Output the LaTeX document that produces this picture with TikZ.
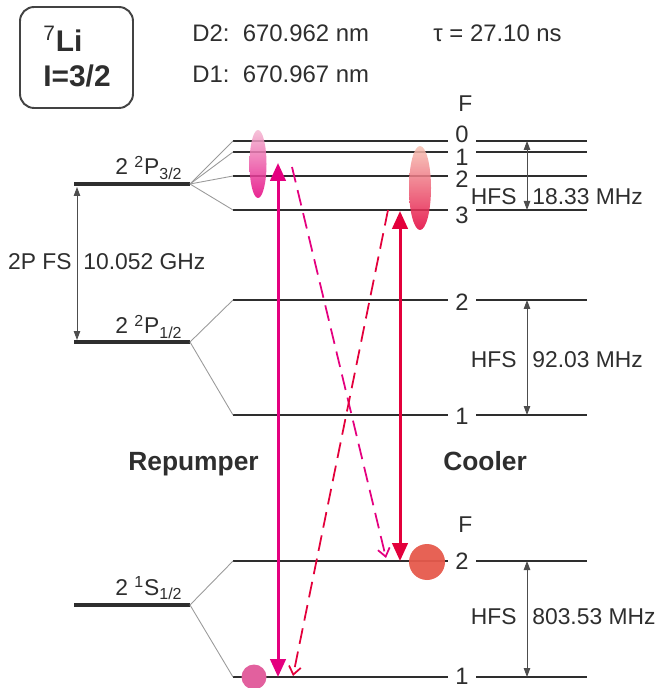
\documentclass[tikz,border=0pt]{standalone}
\usepackage{fontspec}
\setmainfont{Liberation Sans}
\usetikzlibrary{arrows.meta,shapes.geometric}
\definecolor{LiInk}{HTML}{2E2E2E}
\definecolor{LiGrey}{HTML}{9A9A9A}
\definecolor{RepMagenta}{HTML}{E4007F}
\definecolor{CoolRed}{HTML}{E3003B}
\definecolor{RepPink}{HTML}{F4B8D2}
\definecolor{CoolSalmon}{HTML}{F6C2B2}
\definecolor{CoolSpot}{HTML}{E65A4C}
\definecolor{RepSpot}{HTML}{E2609E}

\begin{document}
\begin{tikzpicture}[x=0.02cm,y=-0.02cm,
  every node/.style={inner sep=0pt,text=LiInk,font=\fontsize{13}{15}\selectfont},
  finelev/.style={draw=LiInk,line width=2.8pt},
  hfslev/.style={draw=LiInk,line width=0.9pt},
  split/.style={draw=LiGrey,line width=0.5pt},
  span/.style={draw=LiInk!85,line width=0.5pt,{Triangle[length=1.8mm,width=1.3mm]}-{Triangle[length=1.8mm,width=1.3mm]}},
  pump/.style={line width=1.7pt,{Triangle[length=3.6mm,width=3.1mm]}-{Triangle[length=3.6mm,width=3.1mm]}},
  decay/.style={line width=1pt,dash pattern=on 9pt off 4.5pt,-{Straight Barb[length=1.6mm,width=2.4mm]}},
  heading/.style={font=\bfseries\fontsize{15}{18}\selectfont},
  topline/.style={font=\fontsize{13.6}{16}\selectfont,anchor=base west},
  boxtext/.style={font=\bfseries\fontsize{17}{20}\selectfont,anchor=base west},
  cloud/.style={ellipse,opacity=0.85}]
\useasboundingbox (0,0) rectangle (662,688);

\node[draw=LiInk!90,line width=1.1pt,rounded corners=8pt,minimum width=2.26cm,minimum height=2.02cm] (isobox) at (76.5,57.5) {};
\node[boxtext] (isoname) at (43,52) {\textsuperscript{\mdseries 7}Li};
\node[boxtext] (isospin) at (43,87) {I=3/2};
\node[topline] (dtwo) at (192,42) {D2:\ \ 670.962 nm};
\node[topline] (done) at (192,83) {D1:\ \ 670.967 nm};
\node[topline] (tau) at (433,42) {τ = 27.10 ns};

\foreach \lev/\yy/\ty/\tx in {ptwo/184/175/{2 \textsuperscript{2}P\textsubscript{3/2}},
    pone/342/334/{2 \textsuperscript{2}P\textsubscript{1/2}},
    sone/605/595/{2 \textsuperscript{1}S\textsubscript{1/2}}}{
  \coordinate (\lev-l) at (74,\yy);
  \coordinate (\lev-r) at (190,\yy);
  \draw[finelev] (\lev-l) -- (\lev-r);
  \node[anchor=base west] (\lev-t) at (115,\ty) {\tx};
}

\foreach \lev/\yy/\fy/\fl/\lw in {pa/141/134/0/0.9pt, pb/152/157/1/0.9pt, pc/176/179/2/1.5pt, pd/210/215/3/0.9pt,
    qa/300/302/2/0.9pt, qb/415/416/1/0.9pt, sa/561/561/2/0.8pt, sb/677/676/1/0.8pt}{
  \coordinate (\lev-l) at (233,\yy);
  \coordinate (\lev-r) at (587,\yy);
  \coordinate (\lev-m) at (527,\yy);
  \node[font=\fontsize{13.5}{15}\selectfont] (\lev-f) at (462,\fy) {\fl};
  \draw[hfslev,line width=\lw] (\lev-l) -- (448,\yy) (476,\yy) -- (\lev-r);
}
\node[anchor=base west] (fup) at (458,112) {F};
\node[anchor=base west] (fdown) at (458,532) {F};

\foreach \lev in {pa,pb,pc,pd} \draw[split] (ptwo-r) -- (\lev-l);
\foreach \lev in {qa,qb} \draw[split] (pone-r) -- (\lev-l);
\foreach \lev in {sa,sb} \draw[split] (sone-r) -- (\lev-l);

\coordinate (fs-hi) at (77,187);
\coordinate (fs-lo) at (77,340);
\draw[span] (fs-hi) -- (fs-lo);
\node[anchor=base east] (fs-name) at (72,270) {2P FS};
\node[anchor=base west] (fs-val) at (83,270) {10.052 GHz};

\foreach \hi/\lo/\by/\val in {pa/pd/205/18.33, qa/qb/367/92.03, sa/sb/624/803.53}{
  \draw[span] (\hi-m) -- (\lo-m);
  \node[anchor=base east] (\hi-hfs) at (517,\by) {HFS};
  \node[anchor=base west] (\hi-val) at (532,\by) {\val\ MHz};
}

\node[heading,anchor=base west] (repname) at (128,470) {Repumper};
\node[heading,anchor=base west] (coolname) at (443,470) {Cooler};

\node[cloud,top color=RepPink,bottom color=RepMagenta,minimum width=0.34cm,minimum height=1.36cm] (repcloud) at (258,164) {};
\node[cloud,top color=CoolSalmon,bottom color=CoolRed,minimum width=0.44cm,minimum height=1.68cm] (coolcloud) at (420,188) {};
\node[circle,fill=CoolSpot,opacity=0.95,minimum size=0.72cm] (coolspot) at (427,562) {};
\node[circle,fill=RepSpot,minimum size=0.5cm] (repspot) at (254,677) {};

\coordinate (rep-lo) at (278,677);
\coordinate (rep-hi) at (278,163);
\coordinate (cool-lo) at (400,561);
\coordinate (cool-hi) at (400,211);
\draw[pump,RepMagenta] (rep-lo) -- (rep-hi);
\draw[pump,CoolRed] (cool-lo) -- (cool-hi);

\coordinate (repd-a) at (292,167);
\coordinate (repd-b) at (386,558);
\coordinate (coold-a) at (388,210);
\coordinate (coold-b) at (293,676);
\draw[decay,RepMagenta] (repd-a) -- (repd-b);
\draw[decay,CoolRed] (coold-a) -- (coold-b);
\end{tikzpicture}
\end{document}
